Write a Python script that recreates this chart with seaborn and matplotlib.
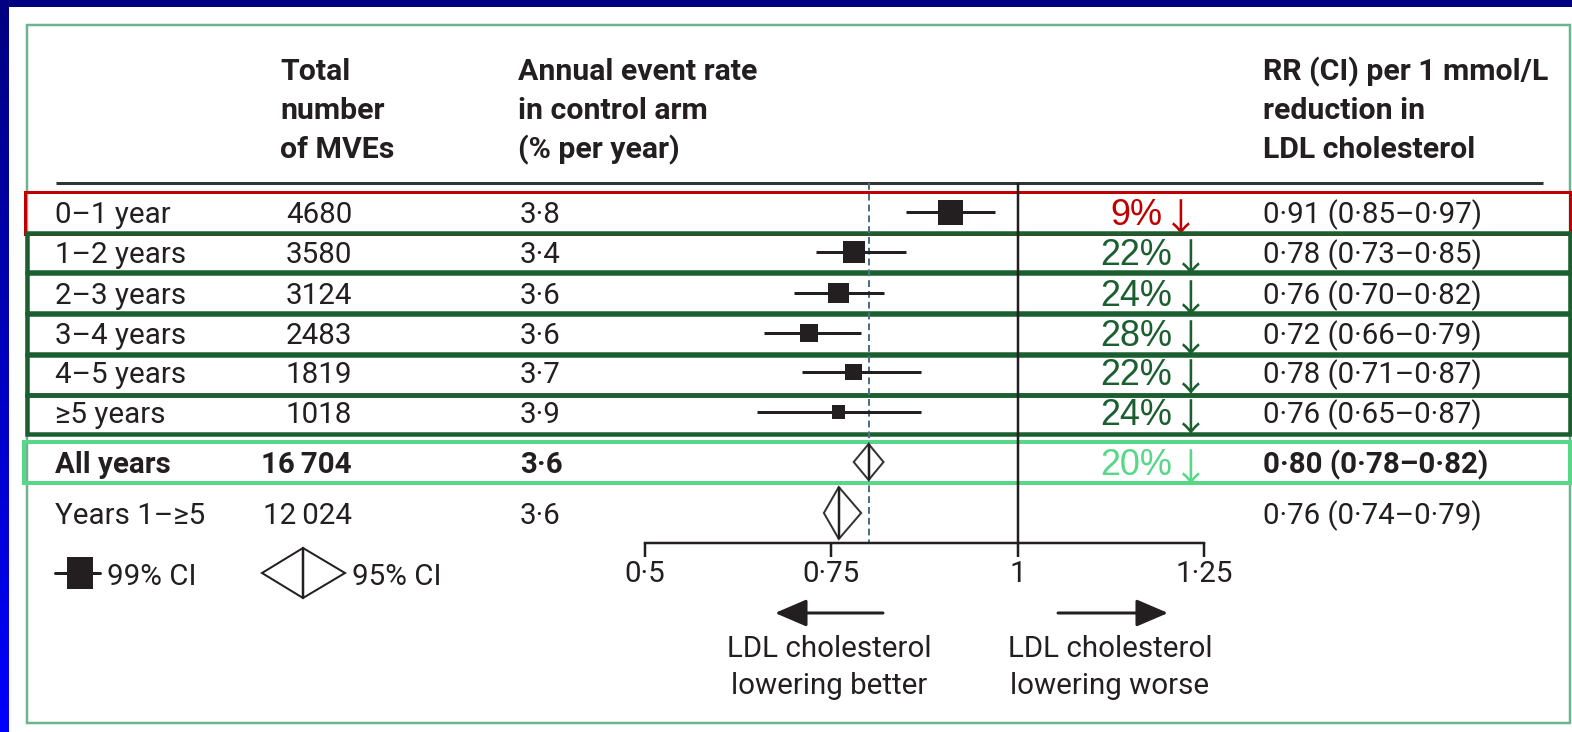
import numpy as np
import pandas as pd
import matplotlib
matplotlib.use("Agg")
import matplotlib.pyplot as plt
import seaborn as sns
from matplotlib.patches import Rectangle, Polygon
from matplotlib.colors import LinearSegmentedColormap

# ---- data -------------------------------------------------------------
periods = ["0–1 year", "1–2 years", "2–3 years", "3–4 years", "4–5 years", "≥5 years"]
mves = [4680, 3580, 3124, 2483, 1819, 1018]
event_rate = [3.8, 3.4, 3.6, 3.6, 3.7, 3.9]
rr = [0.91, 0.78, 0.76, 0.72, 0.78, 0.76]
rr_lo = [0.85, 0.73, 0.70, 0.66, 0.71, 0.65]
rr_hi = [0.97, 0.85, 0.82, 0.79, 0.87, 0.87]

summary_labels = ["All years", "Years 1–≥5"]
summary_mves = [16704, 12024]
summary_rate = [3.6, 3.6]
summary_rr = [0.80, 0.76]
summary_lo = [0.78, 0.74]
summary_hi = [0.82, 0.79]

x_ticks = [0.5, 0.75, 1.0, 1.25]
x_tick_labels = ["0·5", "0·75", "1", "1·25"]

# ---- style ------------------------------------------------------------
sns.set_theme(style="white")
BODY = ["Roboto", "DejaVu Sans"]
PCT = ["Liberation Sans", "DejaVu Sans"]
ARROW = ["Noto Sans CJK SC", "DejaVu Sans"]
plt.rcParams["font.family"] = BODY
INK = "#231f20"
RED = "#c00000"
DKGREEN = "#1b5e30"
LTGREEN = "#57d787"
PX = 0.72  # points per pixel at 100 dpi

W, H = 1572, 732
fig = plt.figure(figsize=(W / 100, H / 100), dpi=100)
fig.patch.set_facecolor("white")
renderer = fig.canvas.get_renderer()


def fit_size(sample, width_px, family, weight="normal"):
    """Font size at which `sample` spans `width_px` pixels."""
    t = fig.text(0, 0, sample, fontsize=20, family=family, fontweight=weight)
    w = t.get_window_extent(renderer).width
    t.remove()
    return 20 * width_px / w


BFS = fit_size("LDL cholesterol", 204, BODY)
HFS = fit_size("Annual event rate", 239, BODY, "bold")
PFS = fit_size("22%", 72, PCT)

# overlay axes in pixel coordinates for the table text and frames
ax = fig.add_axes([0, 0, 1, 1])
ax.set_facecolor("none")
grad = np.linspace(0, 1, 256).reshape(-1, 1)
edge_cmap = LinearSegmentedColormap.from_list("edge", ["#000080", "#0000ff"])
ax.imshow(grad, extent=[0, 9, H, 0], aspect="auto", cmap=edge_cmap, zorder=0)
ax.add_patch(Rectangle((0, 0), W, 7, color="#000080", lw=0, zorder=1))
ax.set_xlim(0, W)
ax.set_ylim(H, 0)
ax.axis("off")

# outer panel
ax.add_patch(Rectangle((27, 25), 1543, 698, fill=False, ec="#6db590", lw=2.5 * PX, zorder=1))


def fmt_num(n):
    # thin-space grouping only for five-digit counts
    return f"{n:,}".replace(",", "\u2009") if n >= 10000 else str(n)


def fmt_dec(v, d=2):
    return f"{v:.{d}f}".replace(".", "·")


# header
head_base = [80, 119, 158]
for x, lines in [(280, ["Total", "number", "of MVEs"]),
                 (518, ["Annual event rate", "in control arm", "(% per year)"]),
                 (1263, ["RR (CI) per 1 mmol/L", "reduction in", "LDL cholesterol"])]:
    for yb, line in zip(head_base, lines):
        ax.text(x, yb, line, fontsize=HFS, fontweight="bold", color=INK, va="baseline")
ax.plot([56, 1543], [183, 183], color="#333333", lw=3 * PX, solid_capstyle="butt")

# table rows
row_y = [212, 252, 293, 333, 372, 412]
sum_y = [462, 513]
BASE_OFF = 11

for label, n, rate, r, lo, hi, y in zip(periods, mves, event_rate, rr, rr_lo, rr_hi, row_y):
    kw = dict(fontsize=BFS, color=INK, va="baseline")
    ax.text(55, y + BASE_OFF, label, **kw)
    ax.text(352, y + BASE_OFF, fmt_num(n), ha="right", **kw)
    ax.text(520, y + BASE_OFF, fmt_dec(rate, 1), **kw)
    ax.text(1263, y + BASE_OFF, f"{fmt_dec(r)} ({fmt_dec(lo)}–{fmt_dec(hi)})", **kw)

for k, (label, n, rate, r, lo, hi, y) in enumerate(zip(summary_labels, summary_mves, summary_rate,
                                                     summary_rr, summary_lo, summary_hi, sum_y)):
    weight = "bold" if k == 0 else "normal"
    kw = dict(fontsize=BFS, color=INK, va="baseline", fontweight=weight)
    ax.text(55, y + BASE_OFF, label, **kw)
    ax.text(352, y + BASE_OFF, fmt_num(n), ha="right", **kw)
    ax.text(520, y + BASE_OFF, fmt_dec(rate, 1), **kw)
    ax.text(1263, y + BASE_OFF, f"{fmt_dec(r)} ({fmt_dec(lo)}–{fmt_dec(hi)})", **kw)

# relative reduction labels with a down arrow
pct_colors = [RED] + [DKGREEN] * 5 + [LTGREEN]
for r, y, c in zip(rr + summary_rr[:1], row_y + sum_y[:1], pct_colors):
    t = ax.text(1136, y + 13, f"{round((1 - r) * 100)}%", fontsize=PFS, color=c,
                ha="center", va="baseline", family=PCT)
    ax.annotate("↓", xy=(1, 0), xycoords=t, xytext=(0, -8 * PX), textcoords="offset points",
                fontsize=PFS * 1.05, color=c, ha="left", va="bottom", family=ARROW)

# highlight frames
ax.add_patch(Rectangle((25, 192), 1545, 42, fill=False, ec=RED, lw=3 * PX, zorder=3))
for top, bot in [(233, 272), (273, 313), (314, 354), (355, 395), (395, 434)]:
    ax.add_patch(Rectangle((27, top), 1543, bot - top, fill=False, ec=DKGREEN, lw=4.5 * PX, zorder=3))
ax.add_patch(Rectangle((24, 442), 1546, 41, fill=False, ec=LTGREEN, lw=4 * PX, zorder=3))

# legend
ax.plot([55, 100], [573, 573], color=INK, lw=3 * PX)
ax.add_patch(Rectangle((67, 557), 26, 32, color=INK, lw=0))
ax.text(107, 585, "99% CI", fontsize=BFS, color=INK, va="baseline")
ax.add_patch(Polygon([(262, 573), (303, 548), (345, 573), (303, 598)], closed=True,
                     fc="white", ec=INK, lw=2 * PX))
ax.plot([303, 303], [548, 598], color=INK, lw=2.5 * PX)
ax.text(352, 585, "95% CI", fontsize=BFS, color=INK, va="baseline")

# direction arrows and captions
for xa, xb in [(883, 775), (1058, 1168)]:
    ax.annotate("", xy=(xb, 613), xytext=(xa, 613),
                arrowprops=dict(arrowstyle="-|>,head_length=1.4,head_width=0.6",
                                lw=3 * PX, color=INK, mutation_scale=14, shrinkA=0, shrinkB=0))
for cx, lines in [(829, ["LDL cholesterol", "lowering better"]),
                  (1110, ["LDL cholesterol", "lowering worse"])]:
    ax.text(cx, 657, lines[0], fontsize=BFS, color=INK, ha="center", va="baseline")
    ax.text(cx, 694, lines[1], fontsize=BFS, color=INK, ha="center", va="baseline")

# ---- forest plot on a ratio scale -----------------------------------
x0_px, x1_px = 645, 1204
axf = fig.add_axes([x0_px / W, 0, (x1_px - x0_px) / W, 1])
axf.set_facecolor("none")
axf.set_xlim(0.5, 1.25)
axf.set_ylim(H, 0)

AXIS_Y = 543
TOP_Y = 183
axf.vlines(1.0, TOP_Y, AXIS_Y, color=INK, lw=2.5 * PX, zorder=2)
axf.vlines(summary_rr[0], TOP_Y, AXIS_Y, color="#4f6f86", lw=2 * PX,
           linestyles=(0, (3.4, 2)), zorder=2)

df = pd.DataFrame({"rr": rr, "lo": rr_lo, "hi": rr_hi, "mves": mves, "y": row_y})
axf.hlines(df["y"], df["lo"], df["hi"], color=INK, lw=3 * PX, zorder=3)
sns.scatterplot(data=df, x="rr", y="y", size="mves", sizes=(88, 324), marker="s",
                color=INK, edgecolor="none", legend=False, ax=axf, zorder=4)

for r, lo, hi, y, h in zip(summary_rr, summary_lo, summary_hi, sum_y, [36, 52]):
    axf.fill([lo, r, hi, r], [y, y - h / 2, y, y + h / 2], fc="white", ec="#333333",
             lw=2 * PX, zorder=4)
    axf.vlines(r, y - h / 2, y + h / 2, color=INK, lw=2.5 * PX, zorder=5)

for s in ["top", "right", "left"]:
    axf.spines[s].set_visible(False)
axf.spines["bottom"].set_position(("data", AXIS_Y))
axf.spines["bottom"].set_bounds(0.5, 1.25)
axf.spines["bottom"].set_color(INK)
axf.spines["bottom"].set_linewidth(2.5 * PX)
axf.set_yticks([])
axf.set_xticks(x_ticks)
axf.set_xticklabels(x_tick_labels)
axf.tick_params(axis="x", direction="out", length=14 * PX, width=2.5 * PX, color=INK,
                labelsize=BFS, labelcolor=INK, pad=2, bottom=True)
axf.set_xlabel("")
axf.set_ylabel("")

fig.savefig("out.png", dpi=100)
